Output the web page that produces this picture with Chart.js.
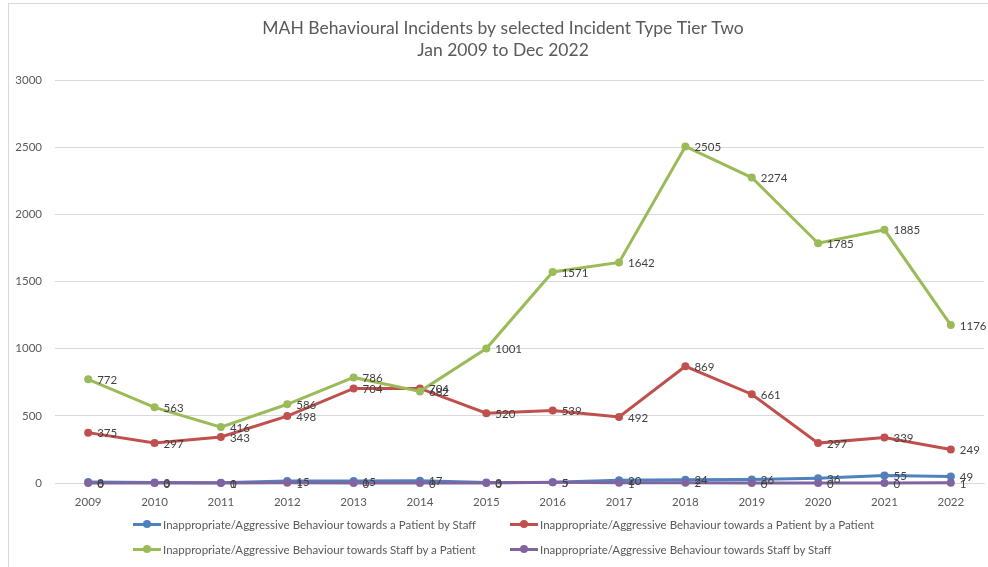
<!DOCTYPE html>
<html>
<head>
<meta charset="utf-8">
<script src="https://cdn.jsdelivr.net/npm/chart.js@4"></script>
<style>
  body { margin: 0; background: #fff; font-family: Lato, "Open Sans", sans-serif; }
  #wrap { position: relative; width: 988px; height: 567px; overflow: hidden; }
  #frame { position: absolute; left: 8px; top: 3px; width: 1100px; height: 700px; border: 1px solid #d9d9d9; }
  canvas { position: absolute; left: 0; top: 0; }
  .leg { position: absolute; font-size: 11.5px; color: #595959; white-space: nowrap; line-height: 14px; }
  .leg i { position: absolute; left: -30px; top: 5px; width: 28px; height: 3px; }
  .leg i::after { content: ''; position: absolute; left: 10px; top: -3px; width: 8px; height: 8px; border-radius: 50%; background: inherit; }
</style>
</head>
<body>
<div id="wrap">
  <div id="frame"></div>
  <canvas id="myChart" width="988" height="567"></canvas>
  <div id="legend"></div>
</div>
<script>
const years = ['2009', '2010', '2011', '2012', '2013', '2014', '2015', '2016', '2017', '2018', '2019', '2020', '2021', '2022'];
const patientByStaff = [8, 3, 1, 15, 15, 17, 3, 5, 20, 24, 26, 36, 55, 49];
const patientByPatient = [375, 297, 343, 498, 704, 704, 520, 539, 492, 869, 661, 297, 339, 249];
const staffByPatient = [772, 563, 416, 586, 786, 682, 1001, 1571, 1642, 2505, 2274, 1785, 1885, 1176];
const staffByStaff = [0, 0, 0, 1, 0, 0, 0, 5, 1, 2, 0, 0, 0, 1];
const yTicks = [0, 500, 1000, 1500, 2000, 2500, 3000];

const seriesNames = [
    'Inappropriate/Aggressive Behaviour towards a Patient by Staff',
    'Inappropriate/Aggressive Behaviour towards a Patient by a Patient',
    'Inappropriate/Aggressive Behaviour towards Staff by a Patient',
    'Inappropriate/Aggressive Behaviour towards Staff by Staff'
];
const colors = ['#4f81bd', '#c0504d', '#9bbb59', '#8064a2'];
const values = [patientByStaff, patientByPatient, staffByPatient, staffByStaff];

const font = 'Lato, "Open Sans", sans-serif';

// title text drawn on the canvas
const titlePlugin = {
    id: 'titleText',
    afterDraw(chart) {
        const c = chart.ctx;
        c.save();
        c.fillStyle = '#595959';
        c.font = '17.5px ' + font;
        c.textAlign = 'center';
        c.textBaseline = 'middle';
        c.fillText('MAH Behavioural Incidents by selected Incident Type Tier Two', 503, 28);
        c.fillText('Jan 2009 to Dec 2022', 503, 50);
        c.restore();
    }
};

// value labels to the right of each point
const labelPlugin = {
    id: 'pointLabels',
    afterDatasetsDraw(chart) {
        const c = chart.ctx;
        c.save();
        c.fillStyle = '#404040';
        c.font = '11.5px ' + font;
        c.textAlign = 'left';
        c.textBaseline = 'middle';
        chart.data.datasets.forEach((ds, i) => {
            chart.getDatasetMeta(i).data.forEach((pt, j) => {
                c.fillText(String(ds.data[j]), pt.x + 9, pt.y + 1);
            });
        });
        c.restore();
    }
};

const ctx = document.querySelector('#myChart').getContext('2d');
const myChart = new Chart(ctx, {
    type: 'line',
    data: {
        labels: years,
        datasets: values.map((v, i) => ({
            label: seriesNames[i],
            data: v,
            borderColor: colors[i],
            backgroundColor: colors[i],
            borderWidth: 3,
            pointRadius: 4,
            pointBorderWidth: 0,
            pointHoverRadius: 4,
            tension: 0,
            clip: false,
            order: 3 - i
        }))
    },
    options: {
        responsive: false,
        animation: false,
        layout: { padding: { top: 80, left: 0, right: 3, bottom: 54 } },
        plugins: {
            legend: { display: false },
            title: { display: false },
            tooltip: { enabled: false }
        },
        scales: {
            x: {
                offset: true,
                grid: { display: false },
                border: { color: '#d9d9d9' },
                ticks: { color: '#595959', font: { family: font, size: 11.5 }, padding: 4, maxRotation: 0 },
                afterFit: (s) => { s.height = 30; }
            },
            y: {
                min: 0,
                max: 3000,
                afterBuildTicks: (s) => { s.ticks = yTicks.map(v => ({ value: v })); },
                grid: { color: '#d9d9d9', tickLength: 0 },
                border: { display: false },
                ticks: {
                    color: '#595959',
                    font: { family: font, size: 11.5 },
                    padding: 13,
                    callback: (v) => String(v)
                },
                afterFit: (s) => { s.width = 55; }
            }
        }
    },
    plugins: [titlePlugin, labelPlugin]
});

// two-column legend under the plot
const legend = document.querySelector('#legend');
const legendPos = [[163, 518], [540, 518], [163, 543], [540, 543]];
seriesNames.forEach((name, i) => {
    const d = document.createElement('div');
    d.className = 'leg';
    d.style.left = legendPos[i][0] + 'px';
    d.style.top = legendPos[i][1] + 'px';
    d.innerHTML = '<i style="background:' + colors[i] + '"></i>' + name;
    legend.appendChild(d);
});
</script>
</body>
</html>
